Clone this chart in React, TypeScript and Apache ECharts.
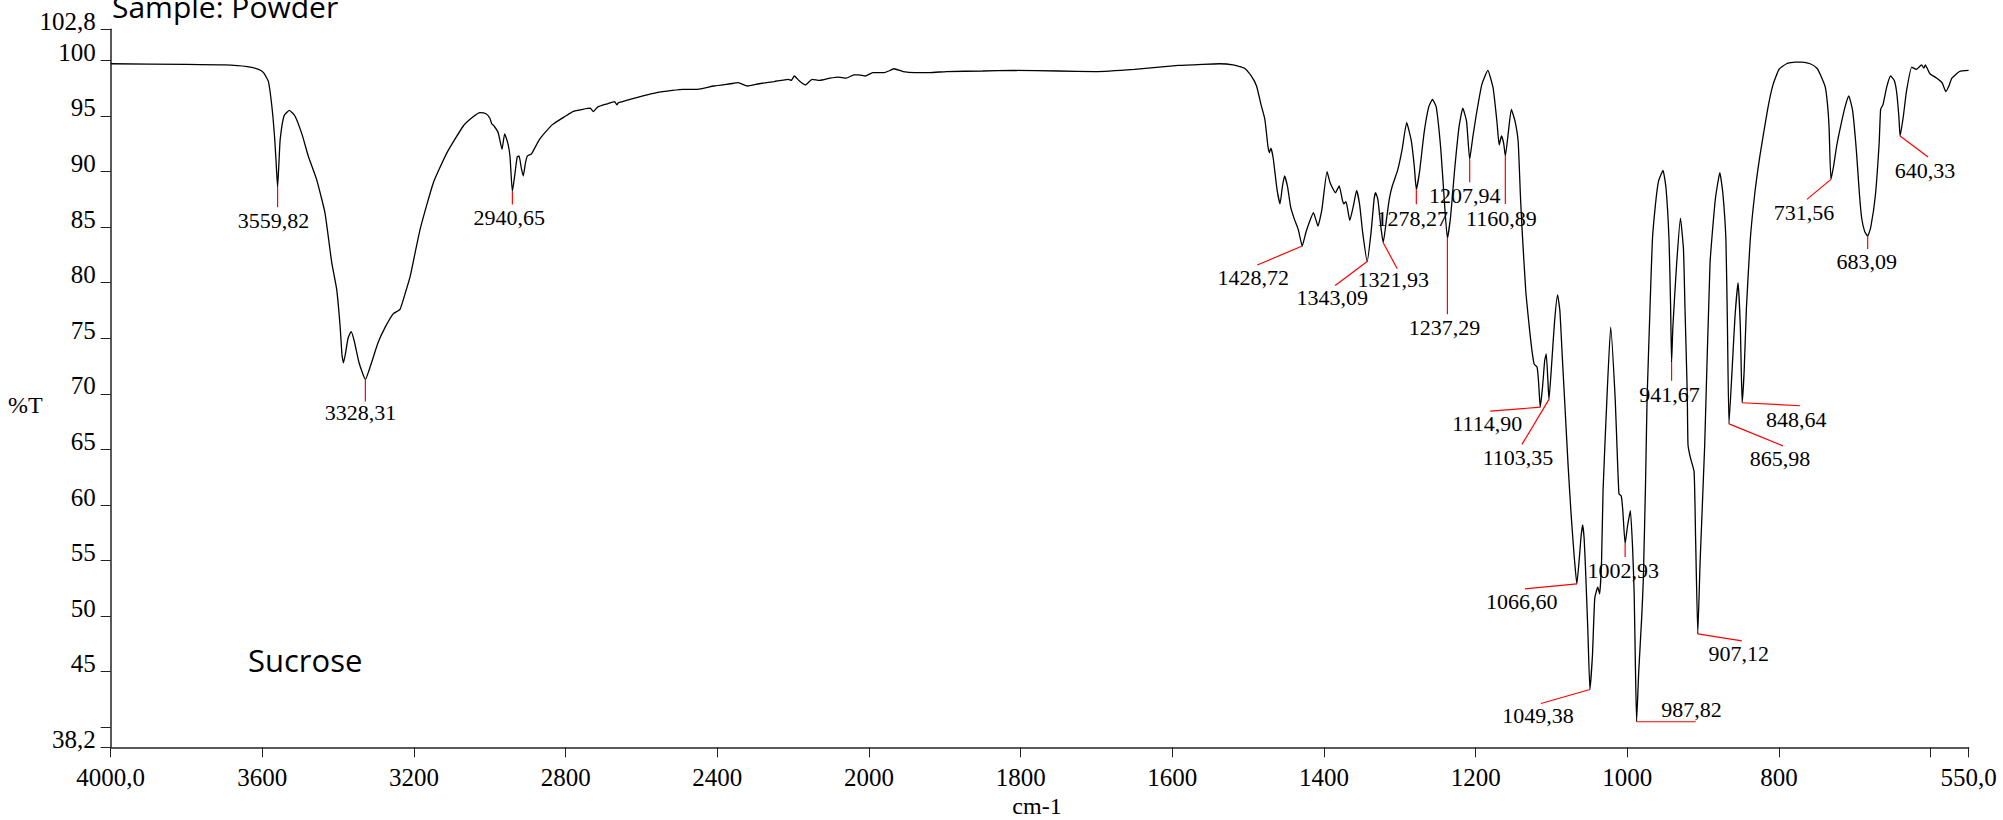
import React, { useEffect, useRef } from "react";
import * as echarts from "echarts";

// ---- spectrum data: [wavenumber cm-1, %T] ----
const highRegion: number[][] = [
  [4000, 99.7], [3800, 99.65], [3700, 99.6], [3640, 99.45], [3610, 99.2], [3597, 98.9], [3584, 98.1],
  [3575, 95.9], [3568, 93.2], [3564, 91.0], [3559.82, 88.6], [3556, 91.0], [3553, 92.9], [3543, 95.0],
  [3529, 95.5], [3514, 95.0], [3495, 93.3], [3479, 91.4], [3457, 89.3], [3435, 86.3], [3417, 81.8],
  [3404, 79.4], [3395, 76.1], [3390, 73.5], [3386, 72.8], [3381, 73.6], [3374, 75.0], [3366, 75.6],
  [3358, 74.8], [3345, 72.8], [3328.31, 71.3], [3315, 72.5], [3295, 74.6], [3276, 76.0], [3255, 77.2],
  [3237, 77.6], [3222, 79.2], [3210, 80.6], [3184, 84.8], [3149, 89.0], [3113, 91.7], [3070, 94.1],
  [3045, 94.9], [3026, 95.3], [3010, 95.2], [3000, 94.8], [2995, 94.3], [2989, 94.1], [2978, 93.5],
  [2968, 92.0], [2961, 93.4], [2953, 92.6], [2947, 91.4], [2940.65, 88.2], [2935, 89.5], [2928, 91.3],
  [2923, 91.4], [2917, 90.3], [2912, 89.6], [2906, 90.8], [2901, 91.4], [2890, 91.6], [2869, 92.9],
  [2836, 94.2], [2800, 95.0], [2781, 95.4], [2755, 95.6], [2735, 95.7], [2727, 95.4], [2716, 95.8],
  [2690, 96.1], [2671, 96.3], [2665, 96.0], [2661, 96.2], [2640, 96.4], [2596, 96.8], [2560, 97.1],
  [2519, 97.3], [2490, 97.4], [2453, 97.4], [2410, 97.7], [2366, 97.9], [2345, 98.0], [2321, 97.7],
  [2290, 97.9], [2250, 98.1], [2213, 98.3], [2205, 98.2], [2197, 98.6], [2185, 98.2], [2168, 97.8],
  [2150, 98.3], [2130, 98.2], [2103, 98.4], [2080, 98.5], [2060, 98.4], [2040, 98.7], [2027, 98.7],
  [2010, 98.6],
];

const midRegion: number[][] = [
  [1995, 98.9], [1980, 98.9], [1972, 99.1], [1967, 99.25], [1955, 99.0], [1940, 98.9], [1920, 98.9],
  [1898, 99.0], [1850, 99.05], [1811, 99.1], [1750, 99.05], [1702, 99.0], [1650, 99.2], [1592, 99.55],
  [1560, 99.65], [1538, 99.7], [1520, 99.6], [1505, 99.3], [1496, 98.6], [1489, 97.7], [1483, 96.0],
  [1478, 94.7], [1474, 92.3], [1472, 91.7], [1470, 92.1], [1467, 91.2], [1462, 88.4], [1458, 87.1],
  [1455, 88.6], [1452, 89.6], [1448, 88.6], [1444, 86.8], [1439, 85.7], [1434, 84.8], [1428.72, 83.3],
  [1424, 84.5], [1419, 85.5], [1414, 86.3], [1410, 85.5], [1408, 85.1], [1403, 86.5], [1396, 90.0],
  [1392, 89.0], [1385, 88.1], [1380, 88.7], [1376, 87.5], [1374, 87.1], [1371, 87.3], [1366, 85.6],
  [1361, 87.0], [1357, 88.3], [1353, 87.0], [1349, 84.5], [1343.09, 81.9], [1338, 84.5], [1334, 87.5],
  [1332, 88.1], [1329, 87.5], [1325, 85.0], [1321.93, 83.6], [1318, 85.5], [1314, 87.5], [1310, 88.7],
  [1303, 90.1], [1297, 92.0], [1291, 94.4], [1285, 92.8], [1281, 90.5], [1278.27, 88.4], [1274, 90.0],
  [1268, 93.5], [1262, 95.8], [1257, 96.5], [1252, 95.8], [1246, 92.0], [1241, 87.0], [1237.29, 84.0],
  [1233, 86.0], [1228, 90.0], [1222, 94.0], [1217, 95.7], [1212, 94.5], [1207.94, 91.1], [1204, 93.0],
  [1199, 95.2], [1192, 97.8], [1184, 99.1], [1177, 97.5], [1172, 94.5], [1169, 92.4], [1166, 93.2],
  [1163, 92.5], [1160.89, 91.4], [1157, 93.5], [1153, 95.6],
];

const fingerprintRegion: number[][] = [
  [1148, 94.5], [1144, 92.7], [1141, 87.8], [1139, 85.0], [1134, 79.3], [1129, 75.8], [1126, 74.0],
  [1123, 72.7], [1119, 72.4], [1117, 71.0], [1114.9, 68.8], [1112, 70.5], [1109, 73.0], [1107, 73.6],
  [1105, 71.5], [1103.35, 69.5], [1100, 72.5], [1096, 76.5], [1092, 78.9], [1089, 77.5], [1086, 73.6],
  [1082, 68.5], [1078, 63.4], [1074, 59.0], [1070, 55.3], [1066.6, 52.9], [1063, 55.5], [1061, 57.2],
  [1059, 58.2], [1057, 57.0], [1055, 54.0], [1052, 48.5], [1049.38, 43.4], [1046, 46.5], [1043, 51.6],
  [1039, 52.6], [1036.5, 52.0], [1034, 55.0], [1032, 61.4], [1027, 69.5], [1022, 76.0], [1016, 69.5],
  [1013, 64.0], [1011, 61.0], [1008, 60.8], [1006, 59.5], [1002.93, 56.5], [1000, 58.0], [996, 59.5],
  [993, 56.0], [991, 52.0], [989.5, 46.0], [987.82, 40.5], [985, 45.0], [981, 50.0], [979, 53.2],
  [976, 62.0], [974, 69.5], [970, 78.0], [967, 83.8], [963, 87.0], [959, 89.1], [953, 90.1], [949, 88.5],
  [945, 83.8], [943, 78.0], [941.67, 72.8], [940, 76.0], [935, 81.7], [930, 85.8], [926, 83.0],
  [924, 77.7], [921, 70.0], [920, 65.4], [917, 64.3], [912, 63.0], [910, 57.0], [907.12, 48.4],
  [904, 55.0], [898, 65.4], [891, 81.7], [884, 87.5], [878, 89.9], [874, 88.0], [870, 83.8], [868, 76.0],
  [865.98, 67.3], [862, 72.0], [858, 77.0], [854, 80.0], [851, 76.0], [848.64, 69.2], [846, 72.0],
  [843, 77.7], [838, 83.8], [832, 88.0], [825, 91.5], [815, 95.6], [808, 97.8], [800, 99.2], [790, 99.7],
  [779, 99.85], [770, 99.85], [759, 99.7], [750, 99.3], [746, 98.8], [739, 97.6], [736, 96.0], [734, 94.0],
  [731.56, 89.3], [728, 90.5], [724, 92.3], [719, 94.0], [713, 95.8], [708, 96.8], [703, 95.5], [698, 91.9],
  [694, 88.0], [691, 85.8], [687, 84.6], [683.09, 84.2], [679, 85.0], [673, 87.8], [668, 92.5], [666, 95.6],
  [663, 96.0], [658, 97.6], [653, 98.6], [648, 98.2], [645, 97.2], [642, 95.0], [640.33, 93.2], [636, 95.0],
  [632, 97.2], [625, 99.4], [619, 99.2], [612, 99.6], [609, 99.3], [607, 99.6], [604, 99.2], [601, 98.8],
  [592, 98.4], [585, 98.0], [580, 97.2], [576, 97.7], [572, 98.4], [562, 99.0], [550, 99.1],
];

// ---- labelled peaks ----
const peakWavenumbers = [
  3559.82, 3328.31, 2940.65, 1428.72, 1343.09, 1321.93, 1278.27, 1237.29, 1207.94, 1160.89, 1114.9,
  1103.35, 1066.6, 1049.38, 1002.93, 987.82, 941.67, 907.12, 865.98, 848.64, 731.56, 683.09, 640.33,
];
const peakTransmittance = [
  88.6, 71.3, 88.2, 83.3, 81.9, 83.6, 88.4, 84.0, 91.1, 91.4, 68.8,
  69.5, 52.9, 43.4, 56.5, 40.5, 72.8, 48.4, 67.3, 69.2, 89.3, 84.2, 93.2,
];
// leader-line end offset and label centre offset (px) from each peak
const peakLabelLayout = [
  [0, 20, -4, 33], [0, 22, -5, 33], [0, 13, -3, 26], [-45, 19, -49, 31], [-32, 24, -35, 36],
  [14, 26, 10, 37], [0, 15, -4, 29], [0, 76, -3, 89], [0, 23, -5, 36], [0, 48, -4, 62],
  [-50, 4, -53, 16], [-27, 45, -31, 58], [-52, 5, -55, 18], [-49, 14, -52, 26], [0, 13, -2, 27],
  [59, 0, 55, -12], [0, 18, -2, 32], [44, 7, 41, 20], [54, 22, 51, 35], [58, 3, 54, 17],
  [-24, 20, -27, 33], [0, 13, -1, 25], [28, 21, 25, 35],
];

// ---- axes ----
const yTickValues = [38.2, 40, 45, 50, 55, 60, 65, 70, 75, 80, 85, 90, 95, 100, 102.8];
const yLabelValues = [38.2, 45, 50, 55, 60, 65, 70, 75, 80, 85, 90, 95, 100, 102.8];
const xTickWavenumbers = [4000, 3600, 3200, 2800, 2400, 2000, 1800, 1600, 1400, 1200, 1000, 800, 600, 550];
const xLabelWavenumbers = [4000, 3600, 3200, 2800, 2400, 2000, 1800, 1600, 1400, 1200, 1000, 800, 550];

// scale change at 2000 cm-1 (above 2000 compressed by 2)
const toU = (w: number) => (w > 2000 ? 2000 + (w - 2000) / 2 : w);
const fromU = (u: number) => (u > 2000 ? 2000 + (u - 2000) * 2 : u);

const SERIF = "Liberation Serif";

export default function App() {
  const ref = useRef<HTMLDivElement>(null);

  useEffect(() => {
    if (!ref.current) return;
    const chart = echarts.init(ref.current, null, { renderer: "svg" });
    const spectrum = [...highRegion, ...midRegion, ...fingerprintRegion].map(([w, t]) => [toU(w), t]);
    const peaks = peakWavenumbers.map((w, i) => [toU(w), peakTransmittance[i], i]);

    chart.setOption({
      animation: false,
      backgroundColor: "#ffffff",
      textStyle: { fontFamily: SERIF },
      grid: { left: 110.7, right: 34.4, top: 29.3, bottom: 72.7, containLabel: false },
      xAxis: {
        type: "value",
        min: toU(550),
        max: toU(4000),
        inverse: true,
        splitLine: { show: false },
        axisLine: { show: true, lineStyle: { color: "#222", width: 1.5 } },
        axisTick: {
          show: true,
          length: 10,
          customValues: xTickWavenumbers.map(toU),
          lineStyle: { color: "#222", width: 1 },
        },
        axisLabel: {
          customValues: xLabelWavenumbers.map(toU),
          margin: 18,
          fontFamily: SERIF,
          fontSize: 25,
          color: "#000",
          hideOverlap: false,
          rich: { s: { fontFamily: SERIF, fontSize: 25, color: "#000" } },
          formatter: (u: number) => {
            const w = Math.round(fromU(u));
            return `{s|${w === 4000 || w === 550 ? `${w},0` : String(w)}}`;
          },
        },
      },
      yAxis: {
        type: "value",
        min: 38.2,
        max: 102.8,
        splitLine: { show: false },
        axisLine: { show: true, lineStyle: { color: "#222", width: 1.5 } },
        axisTick: {
          show: true,
          length: 10,
          customValues: yTickValues,
          lineStyle: { color: "#222", width: 1 },
        },
        axisLabel: {
          customValues: yLabelValues,
          margin: 15,
          fontFamily: SERIF,
          fontSize: 25,
          color: "#000",
          verticalAlign: "bottom",
          lineHeight: 16,
          hideOverlap: false,
          rich: { s: { fontFamily: SERIF, fontSize: 25, color: "#000", lineHeight: 16 } },
          formatter: (v: number) => `{s|${String(v).replace(".", ",")}}`,
        },
      },
      series: [
        {
          type: "line",
          data: spectrum,
          showSymbol: false,
          smooth: 0.15,
          lineStyle: { color: "#000", width: 1.3 },
          z: 2,
        },
        {
          type: "custom",
          data: peaks,
          encode: { x: 0, y: 1 },
          clip: false,
          z: 3,
          renderItem: (params: any, api: any) => {
            const idx = api.value(2);
            const p = api.coord([api.value(0), api.value(1)]);
            const [lx, ly, tx, ty] = peakLabelLayout[idx];
            const label = peakWavenumbers[idx].toFixed(2).replace(".", ",");
            return {
              type: "group",
              children: [
                {
                  type: "line",
                  shape: { x1: p[0], y1: p[1], x2: p[0] + lx, y2: p[1] + ly },
                  style: { stroke: "#ff0000", lineWidth: 1.2 },
                },
                {
                  type: "text",
                  x: p[0] + tx,
                  y: p[1] + ty,
                  style: {
                    text: label,
                    fontFamily: SERIF,
                    fontSize: 22,
                    fill: "#000",
                    align: "center",
                    verticalAlign: "middle",
                  },
                },
              ],
            };
          },
        },
      ],
      graphic: [
        {
          type: "text",
          x: 112,
          y: 6,
          style: {
            text: "Sample: Powder",
            fontFamily: "Open Sans",
            fontSize: 30,
            fill: "#000",
            align: "left",
            verticalAlign: "middle",
          },
        },
        {
          type: "text",
          x: 248,
          y: 660,
          style: {
            text: "Sucrose",
            fontFamily: "Open Sans",
            fontSize: 31,
            fill: "#000",
            align: "left",
            verticalAlign: "middle",
          },
        },
        {
          type: "text",
          x: 8,
          y: 405,
          style: { text: "%T", fontFamily: SERIF, fontSize: 24, fill: "#000", align: "left", verticalAlign: "middle" },
        },
        {
          type: "text",
          x: 1037,
          y: 806,
          style: { text: "cm-1", fontFamily: SERIF, fontSize: 24, fill: "#000", align: "center", verticalAlign: "middle" },
        },
      ],
    });

    return () => chart.dispose();
  }, []);

  return (
    <div
      ref={ref}
      style={{ position: "fixed", left: 0, top: 0, width: "2003px", height: "820px", background: "#fff" }}
    />
  );
}
